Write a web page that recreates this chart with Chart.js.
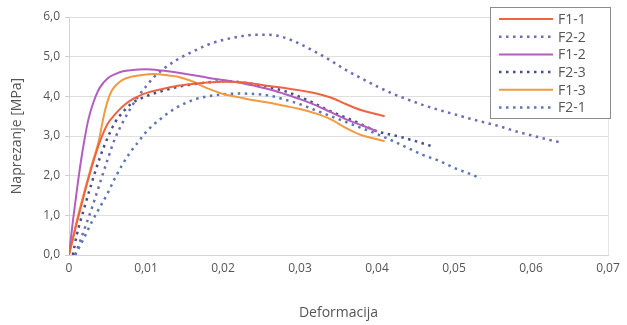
<!DOCTYPE html>
<html>
<head>
<meta charset="utf-8">
<script src="https://cdn.jsdelivr.net/npm/chart.js@4/dist/chart.umd.min.js"></script>
<style>
  html, body { margin: 0; padding: 0; background: #ffffff; }
  #wrap { width: 627px; height: 325px; position: relative; }
</style>
</head>
<body>
<div id="wrap"><canvas id="c" width="627" height="325"></canvas></div>
<script>
// Strain (Deformacija) and stress (Naprezanje, MPa) for each specimen
const f11Strain = [0, 0.001, 0.002, 0.003, 0.004, 0.005, 0.006, 0.007, 0.008, 0.009, 0.010, 0.012, 0.014, 0.016, 0.018, 0.020, 0.022, 0.024, 0.026, 0.028, 0.030, 0.032, 0.034, 0.036, 0.038, 0.040, 0.041];
const f11Stress = [0, 0.8, 1.55, 2.25, 2.85, 3.3, 3.55, 3.75, 3.9, 4.0, 4.08, 4.18, 4.26, 4.31, 4.35, 4.37, 4.36, 4.32, 4.26, 4.21, 4.15, 4.08, 3.97, 3.8, 3.65, 3.55, 3.5];

const f22Strain = [0.0008, 0.002, 0.003, 0.004, 0.005, 0.006, 0.007, 0.008, 0.009, 0.010, 0.011, 0.012, 0.014, 0.016, 0.018, 0.020, 0.022, 0.024, 0.026, 0.028, 0.030, 0.032, 0.034, 0.036, 0.038, 0.040, 0.042, 0.044, 0.046, 0.048, 0.050, 0.052, 0.054, 0.056, 0.058, 0.060, 0.062, 0.064];
const f22Stress = [0, 0.65, 1.2, 1.8, 2.4, 2.95, 3.35, 3.7, 4.0, 4.25, 4.48, 4.65, 4.92, 5.12, 5.3, 5.42, 5.5, 5.55, 5.55, 5.48, 5.32, 5.12, 4.9, 4.66, 4.45, 4.25, 4.07, 3.92, 3.78, 3.66, 3.55, 3.44, 3.34, 3.24, 3.12, 3.02, 2.92, 2.83];

const f12Strain = [0, 0.0005, 0.001, 0.0015, 0.002, 0.0025, 0.003, 0.0035, 0.004, 0.005, 0.006, 0.007, 0.008, 0.010, 0.012, 0.014, 0.016, 0.018, 0.020, 0.022, 0.024, 0.026, 0.028, 0.030, 0.032, 0.034, 0.036, 0.038, 0.040];
const f12Stress = [0, 0.85, 1.6, 2.3, 2.9, 3.4, 3.75, 4.02, 4.22, 4.45, 4.56, 4.63, 4.66, 4.68, 4.65, 4.6, 4.54, 4.47, 4.41, 4.35, 4.27, 4.18, 4.06, 3.93, 3.78, 3.6, 3.42, 3.27, 3.12];

const f23Strain = [0.0005, 0.001, 0.002, 0.003, 0.004, 0.005, 0.006, 0.007, 0.008, 0.010, 0.012, 0.015, 0.018, 0.020, 0.022, 0.025, 0.028, 0.031, 0.034, 0.037, 0.040, 0.043, 0.045, 0.047];
const f23Stress = [0, 0.5, 1.2, 1.85, 2.45, 2.95, 3.35, 3.6, 3.8, 4.0, 4.13, 4.27, 4.35, 4.38, 4.36, 4.27, 4.13, 3.9, 3.62, 3.38, 3.12, 2.98, 2.87, 2.75];

const f13Strain = [0, 0.001, 0.002, 0.003, 0.0039, 0.0043, 0.0047, 0.0051, 0.0056, 0.0062, 0.0069, 0.008, 0.0095, 0.011, 0.012, 0.014, 0.016, 0.018, 0.020, 0.022, 0.024, 0.026, 0.028, 0.030, 0.032, 0.034, 0.036, 0.038, 0.040, 0.041];
const f13Stress = [0, 0.85, 1.6, 2.3, 2.9, 3.3, 3.66, 3.93, 4.16, 4.3, 4.41, 4.49, 4.54, 4.56, 4.55, 4.5, 4.38, 4.2, 4.06, 3.98, 3.9, 3.84, 3.76, 3.68, 3.57, 3.42, 3.2, 3.02, 2.92, 2.87];

const f21Strain = [0.0008, 0.002, 0.003, 0.004, 0.005, 0.006, 0.007, 0.008, 0.009, 0.010, 0.012, 0.014, 0.016, 0.018, 0.020, 0.022, 0.024, 0.026, 0.028, 0.030, 0.032, 0.034, 0.036, 0.038, 0.040, 0.042, 0.044, 0.046, 0.048, 0.050, 0.052, 0.0535];
const f21Stress = [0, 0.45, 0.85, 1.2, 1.55, 1.95, 2.3, 2.6, 2.85, 3.1, 3.45, 3.72, 3.9, 4.0, 4.05, 4.07, 4.06, 4.02, 3.92, 3.8, 3.65, 3.5, 3.35, 3.2, 3.05, 2.88, 2.7, 2.52, 2.38, 2.2, 2.05, 1.93];

const seriesLabels = ['F1-1', 'F2-2', 'F1-2', 'F2-3', 'F1-3', 'F2-1'];
const xTickLabels = ['0', '0,01', '0,02', '0,03', '0,04', '0,05', '0,06', '0,07'];
const yTickLabels = ['0,0', '1,0', '2,0', '3,0', '4,0', '5,0', '6,0'];

const FONT = '"Open Sans", "Noto Sans", sans-serif';
const TEXT = '#555555';

function pts(xs, ys) { return xs.map((x, i) => ({ x: x, y: ys[i] })); }

function solid(label, xs, ys, color) {
  return { label, data: pts(xs, ys), borderColor: color, backgroundColor: color,
           borderWidth: 2, pointRadius: 0, cubicInterpolationMode: 'monotone', fill: false };
}
function dotted(label, xs, ys, color) {
  return { label, data: pts(xs, ys), borderColor: color, backgroundColor: color,
           borderWidth: 2.5, borderDash: [2.5, 4.5], pointRadius: 0, cubicInterpolationMode: 'monotone', fill: false };
}

// Boxed legend drawn inside the plot area, top right
const boxLegend = {
  id: 'boxLegend',
  afterDraw(chart) {
    const ctx = chart.ctx;
    const x0 = 490.5, y0 = 7.5, w = 120, h = 111, rowH = 17.7, firstY = 19;
    ctx.save();
    ctx.fillStyle = '#ffffff';
    ctx.fillRect(x0, y0, w, h);
    ctx.strokeStyle = '#8c8c8c';
    ctx.lineWidth = 1;
    ctx.strokeRect(x0, y0, w, h);
    chart.data.datasets.forEach((ds, i) => {
      const y = firstY + i * rowH;
      ctx.beginPath();
      ctx.strokeStyle = ds.borderColor;
      ctx.lineWidth = ds.borderWidth;
      ctx.setLineDash(ds.borderDash || []);
      ctx.moveTo(499, y);
      ctx.lineTo(553, y);
      ctx.stroke();
      ctx.setLineDash([]);
      ctx.fillStyle = TEXT;
      ctx.font = '14px ' + FONT;
      ctx.textBaseline = 'middle';
      ctx.textAlign = 'left';
      ctx.fillText(ds.label, 558, y + 1);
    });
    ctx.restore();
  }
};

// Faint right edge of the plot area
const rightEdge = {
  id: 'rightEdge',
  beforeDatasetsDraw(chart) {
    const a = chart.chartArea, ctx = chart.ctx;
    ctx.save();
    ctx.strokeStyle = '#e6e6e6';
    ctx.lineWidth = 1;
    ctx.beginPath();
    ctx.moveTo(Math.round(a.right) + 0.5, a.top);
    ctx.lineTo(Math.round(a.right) + 0.5, a.bottom);
    ctx.stroke();
    ctx.restore();
  }
};

const colors = ['#ee6442', '#6a6db5', '#b25fbe', '#474c88', '#f3993f', '#5b76b8'];
const xs = [f11Strain, f22Strain, f12Strain, f23Strain, f13Strain, f21Strain];
const ys = [f11Stress, f22Stress, f12Stress, f23Stress, f13Stress, f21Stress];

const datasets = seriesLabels.map((lab, i) =>
  lab.startsWith('F1') ? solid(lab, xs[i], ys[i], colors[i]) : dotted(lab, xs[i], ys[i], colors[i]));

new Chart(document.getElementById('c'), {
  type: 'line',
  data: { datasets },
  options: {
    responsive: false,
    animation: false,
    devicePixelRatio: 1,
    layout: { padding: { left: 0, right: 19, top: 17, bottom: 0 } },
    plugins: { legend: { display: false }, tooltip: { enabled: false } },
    scales: {
      x: {
        type: 'linear', min: 0, max: 0.07,
        ticks: { stepSize: 0.01, color: TEXT, font: { family: FONT, size: 12 }, padding: 6,
                 callback: (v, i) => xTickLabels[i] },
        grid: { display: false, drawTicks: false },
        border: { display: true, color: '#d4d4d4', width: 1 },
        title: { display: true, text: 'Deformacija', color: TEXT, font: { family: FONT, size: 14 },
                 padding: { top: 20, bottom: 4 } },
        afterFit: (s) => { s.height = 70; }
      },
      y: {
        min: 0, max: 6,
        ticks: { stepSize: 1, color: TEXT, font: { family: FONT, size: 12 }, padding: 5,
                 callback: (v, i) => yTickLabels[i] },
        grid: { color: '#dedede', lineWidth: 1, tickLength: 4, tickColor: '#cfcfcf' },
        border: { display: true, color: '#d4d4d4', width: 1 },
        title: { display: true, text: 'Naprezanje [MPa]', color: TEXT, font: { family: FONT, size: 14 },
                 padding: { top: 9, bottom: 4 } },
        afterFit: (s) => { s.width = 69; }
      }
    }
  },
  plugins: [rightEdge, boxLegend]
});
</script>
</body>
</html>
